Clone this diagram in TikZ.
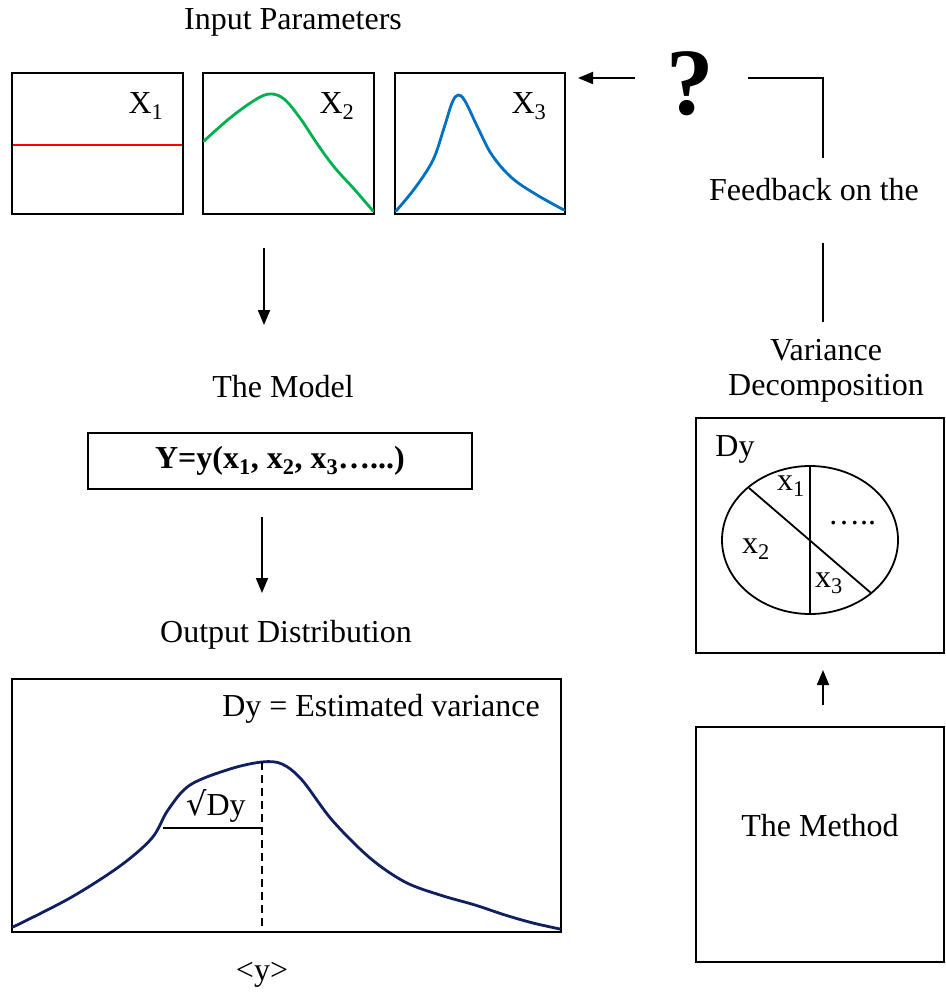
\documentclass[tikz,border=0pt]{standalone}
\usepackage{fontspec}
\setmainfont{Liberation Serif}
\usetikzlibrary{arrows.meta}
\definecolor{gr}{HTML}{00B050}
\definecolor{bl}{HTML}{0070C0}
\definecolor{nv}{HTML}{0F1F5F}
\begin{document}
\begin{tikzpicture}[x=1pt,y=-1pt,
  every node/.style={font=\fontsize{32}{36}\selectfont, inner sep=0pt},
  box/.style={draw=black, line width=1.8pt},
  conn/.style={line width=1.8pt},
  arr/.style={line width=1.8pt, -{Triangle[length=15pt,width=12pt]}},
  crv/.style={line width=2.8pt, line join=round, line cap=round}]
\useasboundingbox (0,0) rectangle (945,995);

% Input parameters
\node (inp) at (293,22) {Input Parameters};
\draw[box] (12,73) rectangle (183,214);
\draw[box] (203,73) rectangle (374,214);
\draw[box] (395,73) rectangle (565,214);
\draw[red, line width=2.8pt] (13,145) -- (182,145);
\draw[gr, crv] plot[smooth, tension=0.6] coordinates {(204,141) (230,118) (255,100) (270,94) (284,99) (300,118) (318,145) (335,168) (355,190) (373,211)};
\draw[bl, crv] plot[smooth, tension=0.6] coordinates {(396,211) (415,188) (433,160) (444,128) (452,103) (458,95) (465,101) (478,128) (492,155) (512,178) (537,195) (564,210)};
\node (x1) at (146,106) {X\textsubscript{1}};
\node (x2) at (337,106) {X\textsubscript{2}};
\node (x3) at (529,106) {X\textsubscript{3}};

% model
\coordinate (a1s) at (264,248);
\coordinate (a1e) at (264,325);
\draw[arr] (a1s) -- (a1e);
\node (model) at (283,387) {The Model};
\node[box, minimum width=384pt, minimum height=56pt] (eq) at (280,461)
  {\bfseries Y=y(x\textsubscript{1}, x\textsubscript{2}, x\textsubscript{3}…...)};
\coordinate (a2s) at (262,517);
\coordinate (a2e) at (262,593);
\draw[arr] (a2s) -- (a2e);
\node (outd) at (286,635) {Output Distribution};

% output distribution
\draw[box] (12,679) rectangle (561,932);
\node (dy) at (381,709) {Dy = Estimated variance};
\draw[nv, crv] plot[smooth, tension=0.55] coordinates {(13,927) (70,898) (120,866) (152,838) (168,810) (190,785) (230,769) (262,762) (282,764) (302,780) (332,820) (370,858) (405,882) (440,895) (475,905) (505,915) (533,923) (560,929)};
\coordinate (pk) at (262,762);
\coordinate (pb) at (262,932);
\draw[line width=1.8pt, dash pattern=on 8pt off 5pt] (pk) -- (pb);
\coordinate (hl) at (163,828);
\coordinate (hr) at (262,828);
\draw[line width=1.3pt] (hl) -- (hr);
\node (sq) at (216,806) {{\fontspec{DejaVu Sans}\fontsize{32}{36}\selectfont√}Dy};
\node (ym) at (262,975) {<y>};

% feedback
\node (q) at (690,84) {\fontsize{95}{95}\selectfont\bfseries ?};
\coordinate (la) at (635,78);
\coordinate (lb) at (578,78);
\draw[arr] (la) -- (lb);
\coordinate (ra) at (748,78);
\coordinate (rc) at (823,78);
\coordinate (rb) at (823,158);
\draw[conn] (ra) -- (rc) -- (rb);
\node (fb) at (814,190) {Feedback on the};
\coordinate (v1) at (823,243);
\coordinate (v2) at (823,322);
\draw[conn] (v1) -- (v2);
\node[align=center, font=\fontsize{32}{35}\selectfont] (vd) at (826,371) {Variance\\Decomposition};

% pie box
\draw[box] (696,418) rectangle (944,653);
\node (dyp) at (735,449) {Dy};
\draw[line width=1.8pt] (810,540) ellipse [x radius=88, y radius=74];
\coordinate (pt) at (810,466);
\coordinate (pbt) at (810,614);
\draw[line width=1.8pt] (pt) -- (pbt);
\coordinate (d1) at (749,488);
\coordinate (d2) at (871,593);
\draw[line width=1.8pt] (d1) -- (d2);
\node (px1) at (791,486) {x\textsubscript{1}};
\node (pdots) at (852,523) {…..};
\node (px2) at (756,549) {x\textsubscript{2}};
\node (px3) at (829,583) {x\textsubscript{3}};

% method
\coordinate (m1) at (823,705);
\coordinate (m2) at (823,670);
\draw[arr] (m1) -- (m2);
\draw[box] (696,727) rectangle (944,962);
\node (meth) at (820,826) {The Method};
\end{tikzpicture}
\end{document}
